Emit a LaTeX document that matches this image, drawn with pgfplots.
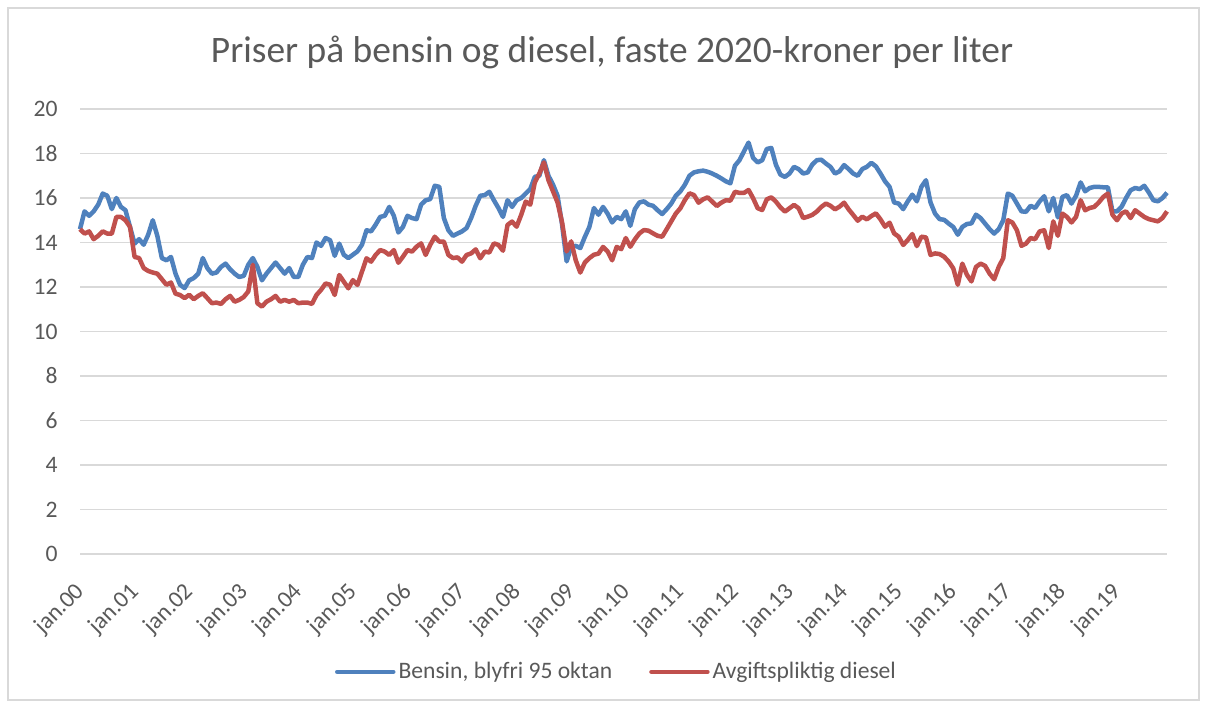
\documentclass[border=0pt]{standalone}
\usepackage{pgfplots}
\pgfplotsset{compat=1.18}
\usepackage{pgfplotstable}
\usepackage{fontspec}
\setmainfont{Carlito}
\definecolor{bl}{HTML}{4F81BD}
\definecolor{rd}{HTML}{C0504D}
\definecolor{txt}{HTML}{595959}
\definecolor{gridc}{HTML}{D9D9D9}
\pgfplotstableread{
m b d
0 14.6 14.6
1 15.4 14.4
2 15.2 14.5
3 15.4 14.15
4 15.7 14.3
5 16.2 14.5
6 16.1 14.4
7 15.5 14.4
8 16.0 15.15
9 15.6 15.15
10 15.45 15.0
11 14.7 14.7
12 13.95 13.35
13 14.15 13.3
14 13.9 12.85
15 14.35 12.72
16 15.0 12.65
17 14.3 12.6
18 13.3 12.35
19 13.2 12.1
20 13.35 12.2
21 12.6 11.7
22 12.1 11.64
23 11.95 11.5
24 12.3 11.65
25 12.4 11.45
26 12.6 11.6
27 13.3 11.72
28 12.85 11.5
29 12.6 11.27
30 12.65 11.3
31 12.9 11.24
32 13.05 11.45
33 12.8 11.6
34 12.6 11.34
35 12.45 11.42
36 12.5 11.55
37 13.0 11.8
38 13.3 13.0
39 12.9 11.27
40 12.3 11.12
41 12.6 11.34
42 12.85 11.45
43 13.1 11.6
44 12.85 11.34
45 12.6 11.42
46 12.85 11.34
47 12.45 11.42
48 12.45 11.27
49 13.0 11.3
50 13.35 11.3
51 13.3 11.24
52 14.0 11.64
53 13.85 11.87
54 14.2 12.16
55 14.1 12.1
56 13.4 11.64
57 13.95 12.54
58 13.45 12.24
59 13.3 11.94
60 13.45 12.31
61 13.6 12.09
62 13.9 12.69
63 14.55 13.29
64 14.5 13.14
65 14.8 13.44
66 15.15 13.66
67 15.2 13.59
68 15.6 13.44
69 15.2 13.66
70 14.45 13.09
71 14.7 13.36
72 15.2 13.66
73 15.1 13.59
74 15.05 13.81
75 15.7 13.96
76 15.9 13.44
77 15.95 13.89
78 16.55 14.26
79 16.5 14.04
80 15.1 14.04
81 14.55 13.44
82 14.3 13.3
83 14.4 13.33
84 14.5 13.14
85 14.65 13.44
86 15.1 13.51
87 15.65 13.69
88 16.1 13.29
89 16.13 13.59
90 16.28 13.55
91 15.9 13.96
92 15.55 13.89
93 15.15 13.63
94 15.9 14.79
95 15.6 14.94
96 15.9 14.71
97 16.0 15.24
98 16.2 15.84
99 16.4 15.7
100 16.95 16.7
101 17.0 17.1
102 17.7 17.6
103 17.0 16.8
104 16.6 16.3
105 16.1 15.8
106 14.8 14.9
107 13.15 13.6
108 13.8 14.05
109 13.85 13.2
110 13.75 12.65
111 14.25 13.1
112 14.7 13.3
113 15.55 13.45
114 15.25 13.5
115 15.6 13.8
116 15.3 13.6
117 14.9 13.2
118 15.15 13.8
119 15.05 13.7
120 15.4 14.2
121 14.75 13.81
122 15.5 14.14
123 15.8 14.41
124 15.85 14.56
125 15.7 14.53
126 15.65 14.41
127 15.45 14.3
128 15.28 14.26
129 15.5 14.6
130 15.75 14.95
131 16.1 15.3
132 16.3 15.54
133 16.6 15.91
134 17.0 16.21
135 17.15 16.13
136 17.2 15.79
137 17.23 15.94
138 17.18 16.03
139 17.1 15.84
140 17.0 15.64
141 16.88 15.79
142 16.75 15.9
143 16.66 15.88
144 17.45 16.28
145 17.7 16.23
146 18.1 16.23
147 18.49 16.36
148 17.8 15.99
149 17.6 15.54
150 17.7 15.46
151 18.2 15.94
152 18.25 16.03
153 17.5 15.84
154 17.05 15.58
155 16.95 15.39
156 17.1 15.54
157 17.4 15.69
158 17.3 15.54
159 17.1 15.1
160 17.15 15.16
161 17.5 15.24
162 17.7 15.39
163 17.72 15.6
164 17.55 15.75
165 17.4 15.65
166 17.1 15.49
167 17.2 15.61
168 17.48 15.79
169 17.3 15.49
170 17.1 15.24
171 17.0 14.98
172 17.3 15.16
173 17.4 15.04
174 17.58 15.19
175 17.42 15.31
176 17.1 15.04
177 16.75 14.71
178 16.5 14.89
179 15.8 14.41
180 15.75 14.26
181 15.5 13.89
182 15.85 14.11
183 16.15 14.38
184 15.85 13.84
185 16.5 14.26
186 16.8 14.23
187 15.8 13.44
188 15.3 13.51
189 15.05 13.48
190 15.02 13.36
191 14.85 13.14
192 14.7 12.84
193 14.35 12.1
194 14.7 13.05
195 14.83 12.55
196 14.86 12.25
197 15.25 12.9
198 15.1 13.05
199 14.85 12.95
200 14.6 12.6
201 14.4 12.35
202 14.6 12.9
203 15.0 13.3
204 16.2 15.0
205 16.1 14.9
206 15.75 14.55
207 15.4 13.85
208 15.38 13.95
209 15.65 14.2
210 15.55 14.15
211 15.85 14.5
212 16.08 14.55
213 15.4 13.75
214 16.0 14.95
215 15.13 14.3
216 16.05 15.3
217 16.13 15.15
218 15.75 14.9
219 16.1 15.15
220 16.7 15.9
221 16.3 15.45
222 16.45 15.55
223 16.5 15.6
224 16.5 15.8
225 16.48 16.05
226 16.48 16.2
227 15.4 15.25
228 15.4 15.0
229 15.6 15.3
230 16.0 15.4
231 16.35 15.1
232 16.45 15.45
233 16.4 15.3
234 16.55 15.15
235 16.25 15.05
236 15.9 15.0
237 15.85 14.95
238 16.0 15.1
239 16.24 15.4
}\data
\begin{document}
\begin{tikzpicture}
\path[use as bounding box] (0,0) rectangle (603.5pt,353pt);
\draw[gridc, line width=0.6pt] (4pt,3pt) rectangle (599.5pt,349pt);
\node[text=txt, font=\fontsize{18.7}{22}\selectfont] at (306pt,327pt) {Priser på bensin og diesel, faste 2020-kroner per liter};
\begin{axis}[at={(40pt,76pt)}, anchor=south west, scale only axis,
  width=543.5pt, height=222.5pt,
  xmin=0, xmax=239, ymin=0, ymax=20,
  ytick={0,2,...,20},
  xtick={0,12,...,228},
  xticklabels={jan.00,jan.01,jan.02,jan.03,jan.04,jan.05,jan.06,jan.07,jan.08,jan.09,jan.10,jan.11,jan.12,jan.13,jan.14,jan.15,jan.16,jan.17,jan.18,jan.19},
  axis line style={draw=none},
  tick style={draw=none},
  major tick length=0pt,
  ymajorgrids, grid style={gridc, line width=0.75pt},
  tick label style={text=txt, font=\fontsize{11.8}{14}\selectfont},
  /pgf/number format/assume math mode=true,
  xticklabel style={xshift=0.5pt, rotate=45, anchor=east, inner sep=0pt},
  xticklabel shift=17pt,
  yticklabel style={anchor=east, inner sep=0pt},
  yticklabel shift=11pt,
  legend style={at={(0.494,-0.265)}, anchor=center, draw=none, fill=none,
    legend columns=2, font=\fontsize{11.8}{14}\selectfont, text=txt,
    nodes={inner sep=1.5pt},
    /tikz/every even column/.append style={column sep=17pt}},
  legend image code/.code={\draw[#1, line width=2.25pt, line cap=round] (0pt,0pt) -- (28pt,0pt);},
  clip=false,
]
\addplot[bl, line width=2.25pt, line join=round] table[x=m,y=b]{\data};
\addlegendentry{Bensin, blyfri 95 oktan}
\addplot[rd, line width=2.25pt, line join=round] table[x=m,y=d]{\data};
\addlegendentry{Avgiftspliktig diesel}
\end{axis}
\end{tikzpicture}
\end{document}
